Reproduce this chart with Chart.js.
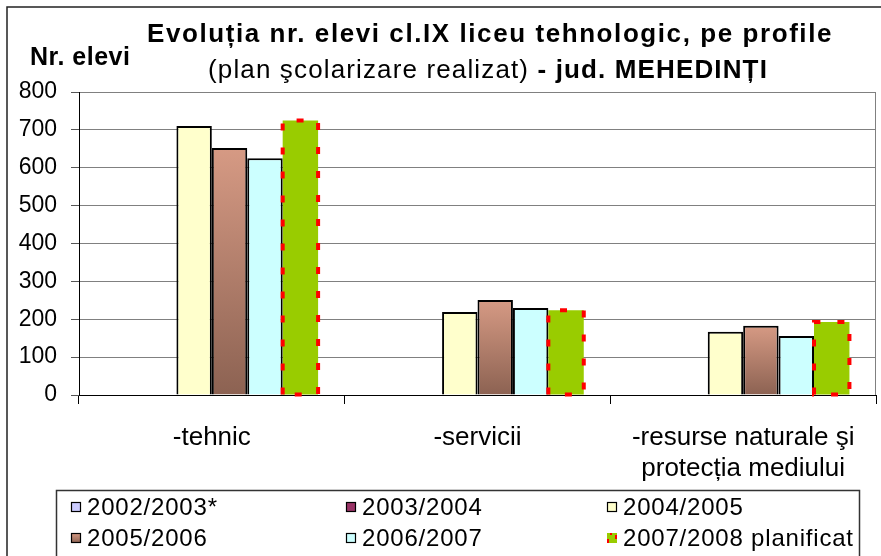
<!DOCTYPE html>
<html>
<head>
<meta charset="utf-8">
<script src="https://cdn.jsdelivr.net/npm/chart.js@4.4.1/dist/chart.umd.min.js"></script>
<style>
  html, body { margin: 0; padding: 0; background: #fff; }
  canvas { display: block; }
</style>
</head>
<body>
<canvas id="chart" width="881" height="556"></canvas>
<script>
// data
const categories = [['-tehnic'], ['-servicii'], ['-resurse naturale şi', 'protecția mediului']];
const seriesLabels = ['2002/2003*', '2003/2004', '2004/2005', '2005/2006', '2006/2007', '2007/2008 planificat'];
const values2002 = [null, null, null];
const values2003 = [null, null, null];
const values2004 = [710, 219, 167];
const values2005 = [652, 251, 183];
const values2006 = [625, 230, 156];
const values2007 = [725, 224, 193];
const yTicks = [0, 100, 200, 300, 400, 500, 600, 700, 800];

const titleLine1 = 'Evoluția nr. elevi cl.IX liceu tehnologic, pe profile';
const titleLine2a = '(plan şcolarizare realizat) ';
const titleLine2b = '- jud. MEHEDINȚI';
const yTitle = 'Nr. elevi';

const FONT = '"Liberation Sans", Arial, sans-serif';

// brown series has a top-to-bottom shade on each bar
function brownFill(c) {
  const chart = c.chart;
  const y = chart.scales && chart.scales.y;
  if (!y || c.raw == null) return '#B07C6A';
  const top = y.getPixelForValue(c.raw), bottom = y.getPixelForValue(0);
  if (!isFinite(top) || !isFinite(bottom) || top === bottom) return '#B07C6A';
  const g = chart.ctx.createLinearGradient(0, top, 0, bottom);
  g.addColorStop(0, '#D69A84');
  g.addColorStop(1, '#8C6252');
  return g;
}

const fills = ['#CCCCFF', '#993366', '#FFFFCC', brownFill, '#CCFFFF', '#99CC00'];
const allValues = [values2002, values2003, values2004, values2005, values2006, values2007];

// spreads text out so it covers the given width
function spacedText(ctx, parts, left, baseline, width) {
  let w0 = 0, n = 0;
  ctx.letterSpacing = '0px';
  parts.forEach(p => { ctx.font = p.font; w0 += ctx.measureText(p.text).width; n += p.text.length; });
  const sp = (width - w0) / n;
  let x = left;
  parts.forEach(p => {
    ctx.font = p.font;
    ctx.letterSpacing = sp + 'px';
    ctx.fillText(p.text, x, baseline);
    x += ctx.measureText(p.text).width;
  });
  ctx.letterSpacing = '0px';
}

const decor = {
  id: 'decor',
  beforeDraw(chart) {
    const ctx = chart.ctx;
    ctx.save();
    ctx.fillStyle = '#fff';
    ctx.fillRect(0, 0, chart.width, chart.height);
    ctx.restore();
  },
  beforeDatasetsDraw(chart) {
    const { ctx, chartArea } = chart;
    ctx.save();
    ctx.strokeStyle = '#808080';
    ctx.lineWidth = 1;
    ctx.beginPath();
    ctx.moveTo(Math.round(chartArea.right) - 0.5, chartArea.top);
    ctx.lineTo(Math.round(chartArea.right) - 0.5, chartArea.bottom);
    ctx.stroke();
    ctx.restore();
  },
  afterDatasetsDraw(chart) {
    // red dashed outline of the planned series
    const ctx = chart.ctx;
    const meta = chart.getDatasetMeta(5);
    ctx.save();
    ctx.strokeStyle = '#FF0000';
    ctx.lineWidth = 4;
    ctx.setLineDash([7, 17]);
    meta.data.forEach(bar => {
      const { x, y, base, width } = bar.getProps(['x', 'y', 'base', 'width'], true);
      const l = x - width / 2, r = x + width / 2;
      ctx.beginPath();
      ctx.moveTo(l, base);
      ctx.lineTo(l, y);
      ctx.lineTo(r, y);
      ctx.lineTo(r, base);
      ctx.closePath();
      ctx.stroke();
    });
    ctx.restore();
  },
  afterDraw(chart) {
    const ctx = chart.ctx;
    ctx.save();

    // outer frame
    ctx.strokeStyle = '#222';
    ctx.lineWidth = 1.5;
    ctx.beginPath();
    ctx.moveTo(7, chart.height);
    ctx.lineTo(7, 7);
    ctx.lineTo(chart.width, 7);
    ctx.stroke();

    // titles
    ctx.fillStyle = '#000';
    ctx.textBaseline = 'alphabetic';
    ctx.textAlign = 'left';
    spacedText(ctx, [{ text: titleLine1, font: 'bold 26px ' + FONT }], 147, 42, 686);
    spacedText(ctx, [
      { text: titleLine2a, font: '26px ' + FONT },
      { text: titleLine2b, font: 'bold 26px ' + FONT }
    ], 208, 78, 560);
    ctx.font = 'bold 25px ' + FONT;
    ctx.letterSpacing = '0.5px';
    ctx.fillText(yTitle, 30, 65);
    ctx.letterSpacing = '0px';

    // legend box
    ctx.strokeStyle = '#333';
    ctx.lineWidth = 1.5;
    ctx.strokeRect(56.5, 490.5, 803, 80);

    const colX = [71, 346, 607];
    const rowY = [507, 538];
    ctx.font = '24px ' + FONT;
    ctx.letterSpacing = '0.8px';
    ctx.textBaseline = 'middle';
    chart.data.datasets.forEach((ds, i) => {
      const mx = colX[i % 3], my = rowY[Math.floor(i / 3)];
      const top = my - 5;
      if (i === 3) {
        const g = ctx.createLinearGradient(0, top, 0, top + 10);
        g.addColorStop(0, '#D69A84');
        g.addColorStop(1, '#8C6252');
        ctx.fillStyle = g;
      } else {
        ctx.fillStyle = fills[i];
      }
      ctx.fillRect(mx, top, 10, 10);
      if (i === 5) {
        ctx.fillStyle = '#FF0000';
        ctx.fillRect(mx, top + 6, 2, 4);
        ctx.fillRect(mx + 8, top + 2, 2, 4);
        ctx.fillRect(mx + 3, top, 2, 2);
      } else {
        ctx.strokeStyle = '#000';
        ctx.lineWidth = 1.2;
        ctx.strokeRect(mx + 0.5, top + 0.5, 9, 9);
      }
      ctx.fillStyle = '#000';
      ctx.fillText(ds.label, mx + 16, my + 1);
    });
    ctx.restore();
  }
};

new Chart(document.getElementById('chart'), {
  type: 'bar',
  data: {
    labels: categories,
    datasets: seriesLabels.map((label, i) => ({
      label: label,
      data: allValues[i],
      backgroundColor: fills[i],
      borderColor: '#000',
      borderWidth: i === 5 ? 0 : 2,
      borderSkipped: 'start',
      categoryPercentage: 0.8,
      barPercentage: 1
    }))
  },
  options: {
    responsive: false,
    animation: false,
    devicePixelRatio: 1,
    layout: { padding: { top: 92, right: 5, left: 0, bottom: 0 } },
    plugins: {
      legend: { display: false },
      title: { display: false },
      tooltip: { enabled: false }
    },
    scales: {
      x: {
        grid: { offset: true, drawOnChartArea: false, drawTicks: true, tickLength: 9, color: '#000' },
        border: { display: true, color: '#000', width: 1 },
        ticks: { color: '#000', font: { family: FONT, size: 26 }, padding: 18, maxRotation: 0, autoSkip: false },
        afterFit: s => { s.height = 161; }
      },
      y: {
        min: 0,
        max: 800,
        afterBuildTicks: s => { s.ticks = yTicks.map(v => ({ value: v })); },
        grid: {
          color: c => (c.tick && c.tick.value === 0 ? '#000' : '#808080'),
          tickColor: '#555',
          tickLength: 8
        },
        border: { display: true, color: '#000', width: 1 },
        ticks: { color: '#000', font: { family: FONT, size: 23 }, padding: 14 },
        afterFit: s => { s.width = 79; }
      }
    }
  },
  plugins: [decor]
});
</script>
</body>
</html>
